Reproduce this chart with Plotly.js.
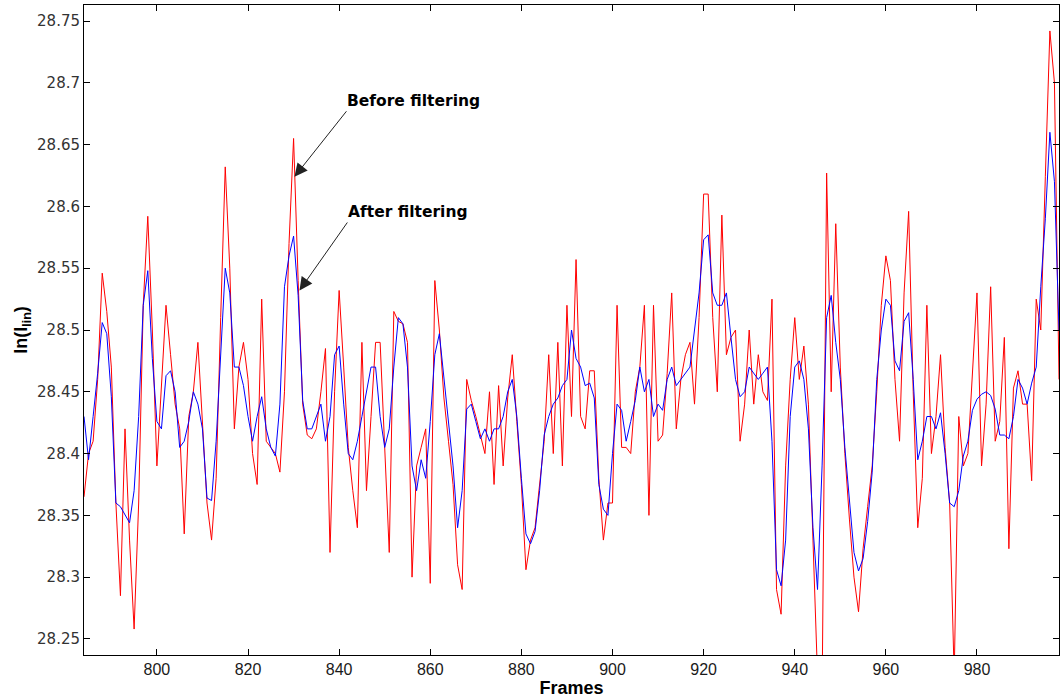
<!DOCTYPE html>
<html>
<head>
<meta charset="utf-8">
<script src="https://cdn.plot.ly/plotly-3.0.1.min.js"></script>
<style>html,body{margin:0;padding:0;background:#fff;}#chart{width:1060px;height:700px;}</style>
</head>
<body>
<div id="chart"></div>
<script>
// Frames 784..998
const startFrame = 784;
const beforeFiltering = [
28.365,28.40,28.41,28.46,28.546,28.515,28.47,28.36,28.285,28.42,
28.33,28.258,28.36,28.52,28.592,28.50,28.39,28.45,28.52,28.48,
28.44,28.42,28.335,28.43,28.45,28.49,28.426,28.36,28.33,28.38,
28.51,28.632,28.55,28.42,28.47,28.49,28.46,28.40,28.375,28.525,
28.41,28.405,28.40,28.385,28.45,28.57,28.655,28.54,28.44,28.415,
28.412,28.42,28.45,28.485,28.32,28.45,28.532,28.47,28.405,28.37,
28.34,28.49,28.37,28.43,28.49,28.49,28.40,28.32,28.515,28.507,
28.505,28.49,28.30,28.39,28.405,28.42,28.295,28.54,28.50,28.445,
28.41,28.375,28.31,28.29,28.46,28.443,28.43,28.415,28.40,28.45,
28.375,28.455,28.39,28.445,28.48,28.426,28.375,28.306,28.33,28.34,
28.375,28.41,28.48,28.40,28.49,28.39,28.52,28.43,28.557,28.43,
28.42,28.467,28.467,28.38,28.33,28.36,28.36,28.52,28.405,28.405,
28.40,28.45,28.47,28.52,28.35,28.52,28.41,28.415,28.465,28.53,
28.42,28.46,28.48,28.49,28.44,28.51,28.61,28.61,28.51,28.45,
28.593,28.48,28.494,28.50,28.41,28.44,28.50,28.44,28.48,28.45,
28.443,28.525,28.29,28.27,28.39,28.46,28.51,28.46,28.487,28.44,
28.33,28.22,28.20,28.627,28.45,28.586,28.47,28.40,28.347,28.30,
28.272,28.323,28.357,28.39,28.45,28.52,28.56,28.54,28.46,28.41,
28.53,28.596,28.45,28.34,28.38,28.52,28.40,28.43,28.48,28.405,
28.36,28.22,28.43,28.39,28.40,28.46,28.53,28.39,28.44,28.535,
28.41,28.426,28.494,28.323,28.453,28.467,28.44,28.44,28.378,28.525,
28.50,28.624,28.742,28.70,28.46
];
const afterFiltering = [
28.43,28.395,28.43,28.465,28.506,28.497,28.446,28.36,28.357,28.35,
28.344,28.37,28.43,28.52,28.548,28.477,28.426,28.42,28.463,28.467,
28.45,28.405,28.41,28.426,28.45,28.44,28.42,28.364,28.362,28.41,
28.484,28.55,28.53,28.47,28.47,28.455,28.43,28.41,28.43,28.446,
28.42,28.405,28.398,28.44,28.535,28.56,28.576,28.528,28.443,28.42,
28.42,28.43,28.44,28.41,28.43,28.48,28.487,28.44,28.40,28.395,
28.41,28.43,28.45,28.47,28.47,28.43,28.405,28.42,28.47,28.51,
28.505,28.47,28.39,28.37,28.395,28.38,28.426,28.48,28.497,28.46,
28.426,28.39,28.34,28.37,28.436,28.44,28.426,28.412,28.42,28.41,
28.42,28.42,28.43,28.45,28.46,28.43,28.38,28.335,28.327,28.337,
28.37,28.415,28.43,28.44,28.445,28.455,28.46,28.50,28.477,28.47,
28.455,28.457,28.445,28.375,28.355,28.35,28.40,28.44,28.435,28.41,
28.426,28.443,28.47,28.45,28.46,28.43,28.44,28.435,28.46,28.47,
28.455,28.46,28.465,28.47,28.50,28.53,28.573,28.577,28.53,28.52,
28.52,28.53,28.494,28.46,28.446,28.45,28.47,28.465,28.46,28.465,
28.47,28.41,28.306,28.293,28.33,28.43,28.47,28.475,28.46,28.42,
28.34,28.29,28.39,28.51,28.528,28.49,28.46,28.405,28.36,28.32,
28.305,28.315,28.345,28.385,28.46,28.50,28.525,28.52,28.475,28.467,
28.507,28.514,28.46,28.395,28.41,28.43,28.43,28.42,28.433,28.40,
28.36,28.357,28.37,28.398,28.41,28.435,28.444,28.448,28.45,28.447,
28.436,28.415,28.415,28.412,28.43,28.46,28.453,28.44,28.457,28.47,
28.535,28.59,28.66,28.62,28.50
];
const frames = beforeFiltering.map((_, i) => startFrame + i);
const xTickVals = [800, 820, 840, 860, 880, 900, 920, 940, 960, 980];
const yTickVals = [28.25, 28.3, 28.35, 28.4, 28.45, 28.5, 28.55, 28.6, 28.65, 28.7, 28.75];
const yTickText = ['28.25','28.3','28.35','28.4','28.45','28.5','28.55','28.6','28.65','28.7','28.75'];
const labelBefore = 'Before filtering';
const labelAfter = 'After filtering';

const traces = [
  {x: frames, y: beforeFiltering, type: 'scatter', mode: 'lines', name: labelBefore,
   line: {color: '#ff0000', width: 1}},
  {x: frames, y: afterFiltering, type: 'scatter', mode: 'lines', name: labelAfter,
   line: {color: '#0000ff', width: 1}}
];

const xTickFont = {family: 'Liberation Sans Narrow, Liberation Sans, Arial, sans-serif', size: 16, color: '#1a1a1a'};
const yTickFont = {family: 'DejaVu Sans, sans-serif', size: 15, color: '#333'};
const titleFont = {family: 'Liberation Sans, Arial, sans-serif', size: 18, color: '#000'};
const annFont = {family: 'DejaVu Sans, sans-serif', size: 15.5, color: '#000'};

const layout = {
  width: 1060, height: 700,
  margin: {l: 84, r: 1, t: 5, b: 45},
  paper_bgcolor: '#fff', plot_bgcolor: '#fff',
  showlegend: false,
  xaxis: {
    range: [784, 998], tickvals: xTickVals, ticks: 'inside', ticklen: 6, tickcolor: '#000',
    showline: true, linecolor: '#000', linewidth: 1, mirror: 'ticks', showgrid: false, zeroline: false,
    tickfont: xTickFont,
    title: {text: '<b>Frames</b>', font: titleFont, standoff: 4}
  },
  yaxis: {
    range: [28.237, 28.763], tickvals: yTickVals, ticktext: yTickText, ticks: 'inside', ticklen: 6, tickcolor: '#000',
    showline: true, linecolor: '#000', linewidth: 1, mirror: 'ticks', showgrid: false, zeroline: false,
    tickfont: yTickFont,
    title: {text: '<b>ln(I<sub>lin</sub>)</b>', font: titleFont, standoff: 4}
  },
  annotations: [
    {xref: 'x', yref: 'y', axref: 'x', ayref: 'y', x: 830.2, y: 28.624, ax: 841.6, ay: 28.677,
     xanchor: 'left', yanchor: 'bottom', borderpad: 0,
     text: '<b>' + labelBefore + '</b>', font: annFont,
     showarrow: true, arrowhead: 2, arrowsize: 2.6, arrowwidth: 1, arrowcolor: '#222'},
    {xref: 'x', yref: 'y', axref: 'x', ayref: 'y', x: 831.3, y: 28.532, ax: 841.8, ay: 28.587,
     xanchor: 'left', yanchor: 'bottom', borderpad: 0,
     text: '<b>' + labelAfter + '</b>', font: annFont,
     showarrow: true, arrowhead: 2, arrowsize: 2.6, arrowwidth: 1, arrowcolor: '#222'}
  ]
};

Plotly.newPlot('chart', traces, layout, {displayModeBar: false, staticPlot: true});
</script>
</body>
</html>
